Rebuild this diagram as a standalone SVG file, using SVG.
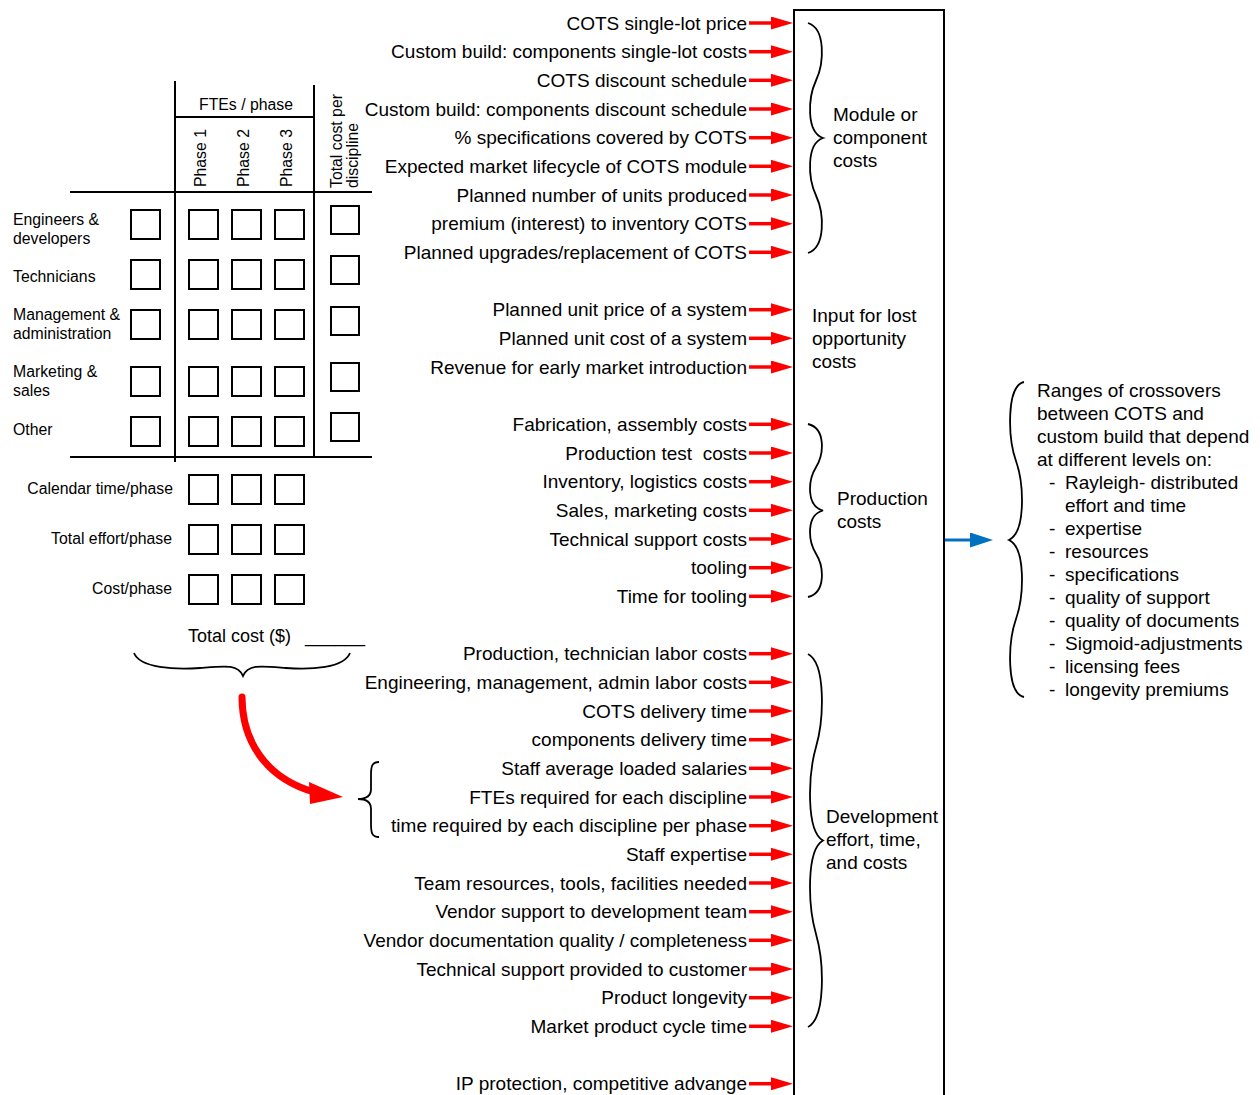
<svg xmlns="http://www.w3.org/2000/svg" width="1260" height="1095" viewBox="0 0 1260 1095">
<style>
text{font-family:"Liberation Sans",Arial,sans-serif;fill:#000}
.t19{font-size:19px}
.lab{font-size:19px;text-anchor:end}
.tb{font-size:15.8px}
.bx{fill:#fff;stroke:#000;stroke-width:2}
.ln{stroke:#000;stroke-width:2;fill:none}
.br{stroke:#000;stroke-width:1.8;fill:none}
.ra{stroke:#f00;stroke-width:3.5;fill:none;marker-end:url(#rh)}
</style>
<defs>
<marker id="rh" markerUnits="userSpaceOnUse" markerWidth="24" markerHeight="14" refX="4" refY="6.5" orient="auto">
<path d="M0,0 L22,6.5 L0,13 z" fill="#f00"/>
</marker>
<marker id="bh" markerUnits="userSpaceOnUse" markerWidth="24" markerHeight="16" refX="3" refY="7.5" orient="auto">
<path d="M0,0 L23,7.5 L0,15 z" fill="#0070C0"/>
</marker>
</defs>
<rect width="1260" height="1095" fill="#fff"/>

<g id="table">
<path class="ln" d="M175,81 V462 M314,85 V457 M175,117 H314 M70,192 H372 M70,457 H372"/>
<text class="tb" x="246" y="110" text-anchor="middle">FTEs / phase</text>
<text class="tb" transform="translate(206,187) rotate(-90)">Phase 1</text>
<text class="tb" transform="translate(249,187) rotate(-90)">Phase 2</text>
<text class="tb" transform="translate(292,187) rotate(-90)">Phase 3</text>
<text class="tb" transform="translate(342,188) rotate(-90)">Total cost per</text>
<text class="tb" transform="translate(358,188) rotate(-90)">discipline</text>
<text class="tb" x="13" y="225">Engineers &amp;</text>
<text class="tb" x="13" y="244">developers</text>
<text class="tb" x="13" y="282">Technicians</text>
<text class="tb" x="13" y="320">Management &amp;</text>
<text class="tb" x="13" y="339">administration</text>
<text class="tb" x="13" y="377">Marketing &amp;</text>
<text class="tb" x="13" y="396">sales</text>
<text class="tb" x="13" y="435">Other</text>
<g>
<rect class="bx" x="131" y="210" width="29" height="29"/><rect class="bx" x="189" y="210" width="29" height="29"/><rect class="bx" x="232" y="210" width="29" height="29"/><rect class="bx" x="275" y="210" width="29" height="29"/><rect class="bx" x="331" y="206" width="28" height="28"/>
<rect class="bx" x="131" y="260" width="29" height="29"/><rect class="bx" x="189" y="260" width="29" height="29"/><rect class="bx" x="232" y="260" width="29" height="29"/><rect class="bx" x="275" y="260" width="29" height="29"/><rect class="bx" x="331" y="256" width="28" height="28"/>
<rect class="bx" x="131" y="310" width="29" height="29"/><rect class="bx" x="189" y="310" width="29" height="29"/><rect class="bx" x="232" y="310" width="29" height="29"/><rect class="bx" x="275" y="310" width="29" height="29"/><rect class="bx" x="331" y="307" width="28" height="28"/>
<rect class="bx" x="131" y="367" width="29" height="29"/><rect class="bx" x="189" y="367" width="29" height="29"/><rect class="bx" x="232" y="367" width="29" height="29"/><rect class="bx" x="275" y="367" width="29" height="29"/><rect class="bx" x="331" y="363" width="28" height="28"/>
<rect class="bx" x="131" y="417" width="29" height="29"/><rect class="bx" x="189" y="417" width="29" height="29"/><rect class="bx" x="232" y="417" width="29" height="29"/><rect class="bx" x="275" y="417" width="29" height="29"/><rect class="bx" x="331" y="413" width="28" height="28"/>
<rect class="bx" x="189" y="475" width="29" height="29"/><rect class="bx" x="232" y="475" width="29" height="29"/><rect class="bx" x="275" y="475" width="29" height="29"/>
<rect class="bx" x="189" y="525" width="29" height="29"/><rect class="bx" x="232" y="525" width="29" height="29"/><rect class="bx" x="275" y="525" width="29" height="29"/>
<rect class="bx" x="189" y="575" width="29" height="29"/><rect class="bx" x="232" y="575" width="29" height="29"/><rect class="bx" x="275" y="575" width="29" height="29"/>
</g>
<text class="tb" x="173" y="494" text-anchor="end">Calendar time/phase</text>
<text class="tb" x="172" y="544" text-anchor="end">Total effort/phase</text>
<text class="tb" x="172" y="594" text-anchor="end">Cost/phase</text>
<text x="188" y="642" style="font-size:18px">Total cost ($) <tspan x="305">______</tspan></text>
<path class="br" d="M134,653 C140,668 175,670 200,668 C225,666 238,664 243,676 C248,664 261,666 286,668 C311,670 344,668 350,653"/>
</g>

<g id="main-box">
<path d="M794,1096 V10 H944 V1096" fill="none" stroke="#000" stroke-width="2"/>
<path class="br" d="M808,23 C826,28.75 824,63.25 816,80.5 C808,97.75 806,132.25 823,138 C806,143.75 808,178.25 816,195.5 C824,212.75 826,247.25 808,253"/>
<text class="t19" x="833" y="121">Module or</text>
<text class="t19" x="833" y="144">component</text>
<text class="t19" x="833" y="167">costs</text>
<text class="t19" x="812" y="322">Input for lost</text>
<text class="t19" x="812" y="345">opportunity</text>
<text class="t19" x="812" y="368">costs</text>
<path class="br" d="M808,424 C826,428.3 824,454.3 816,467.25 C808,480.2 806,506.2 823,510.5 C806,514.8 808,540.8 816,553.75 C824,566.7 826,592.7 808,597"/>
<text class="t19" x="837" y="505">Production</text>
<text class="t19" x="837" y="528">costs</text>
<path class="br" d="M808,654 C826,663.3 824,719 816,747 C808,775 806,831 823,840.5 C806,850 808,906 816,934 C824,962 826,1017.7 808,1027"/>
<text class="t19" x="826" y="823">Development</text>
<text class="t19" x="826" y="846">effort, time,</text>
<text class="t19" x="826" y="869">and costs</text>
</g>

<g id="crossovers">
<path class="br" d="M1024,382 C1006,386 1008,438 1016,461 C1024,484 1026,532 1009,540 C1026,548 1024,596 1016,619 C1008,642 1006,693 1024,697"/>
<text class="t19" x="1037" y="397">Ranges of crossovers</text>
<text class="t19" x="1037" y="420">between COTS and</text>
<text class="t19" x="1037" y="443">custom build that depend</text>
<text class="t19" x="1037" y="466">at different levels on:</text>
<text class="t19" x="1049" y="489">-</text><text class="t19" x="1065" y="489">Rayleigh- distributed</text>
<text class="t19" x="1065" y="512">effort and time</text>
<text class="t19" x="1049" y="535">-</text><text class="t19" x="1065" y="535">expertise</text>
<text class="t19" x="1049" y="558">-</text><text class="t19" x="1065" y="558">resources</text>
<text class="t19" x="1049" y="581">-</text><text class="t19" x="1065" y="581">specifications</text>
<text class="t19" x="1049" y="604">-</text><text class="t19" x="1065" y="604">quality of support</text>
<text class="t19" x="1049" y="627">-</text><text class="t19" x="1065" y="627">quality of documents</text>
<text class="t19" x="1049" y="650">-</text><text class="t19" x="1065" y="650">Sigmoid-adjustments</text>
<text class="t19" x="1049" y="673">-</text><text class="t19" x="1065" y="673">licensing fees</text>
<text class="t19" x="1049" y="696">-</text><text class="t19" x="1065" y="696">longevity premiums</text>
</g>

<g id="inputs">
<text class="lab" x="747" y="29.5">COTS single-lot price</text>
<text class="lab" x="747" y="58.2">Custom build: components single-lot costs</text>
<text class="lab" x="747" y="86.8">COTS discount schedule</text>
<text class="lab" x="747" y="115.5">Custom build: components discount schedule</text>
<text class="lab" x="747" y="144.2">% specifications covered by COTS</text>
<text class="lab" x="747" y="172.8">Expected market lifecycle of COTS module</text>
<text class="lab" x="747" y="201.5">Planned number of units produced</text>
<text class="lab" x="747" y="230.2">premium (interest) to inventory COTS</text>
<text class="lab" x="747" y="258.8">Planned upgrades/replacement of COTS</text>
<text class="lab" x="747" y="316.2">Planned unit price of a system</text>
<text class="lab" x="747" y="344.8">Planned unit cost of a system</text>
<text class="lab" x="747" y="373.5">Revenue for early market introduction</text>
<text class="lab" x="747" y="430.8">Fabrication, assembly costs</text>
<text class="lab" x="747" y="459.5" xml:space="preserve">Production test  costs</text>
<text class="lab" x="747" y="488.2">Inventory, logistics costs</text>
<text class="lab" x="747" y="516.8">Sales, marketing costs</text>
<text class="lab" x="747" y="545.5">Technical support costs</text>
<text class="lab" x="747" y="574.2">tooling</text>
<text class="lab" x="747" y="602.8">Time for tooling</text>
<text class="lab" x="747" y="660.2">Production, technician labor costs</text>
<text class="lab" x="747" y="688.8">Engineering, management, admin labor costs</text>
<text class="lab" x="747" y="717.5">COTS delivery time</text>
<text class="lab" x="747" y="746.2">components delivery time</text>
<text class="lab" x="747" y="774.8">Staff average loaded salaries</text>
<text class="lab" x="747" y="803.5">FTEs required for each discipline</text>
<text class="lab" x="747" y="832.2">time required by each discipline per phase</text>
<text class="lab" x="747" y="860.8">Staff expertise</text>
<text class="lab" x="747" y="889.5">Team resources, tools, facilities needed</text>
<text class="lab" x="747" y="918.2">Vendor support to development team</text>
<text class="lab" x="747" y="946.8">Vendor documentation quality / completeness</text>
<text class="lab" x="747" y="975.5">Technical support provided to customer</text>
<text class="lab" x="747" y="1004.2">Product longevity</text>
<text class="lab" x="747" y="1032.8">Market product cycle time</text>
<text class="lab" x="747" y="1090.2">IP protection, competitive advange</text>
<path class="br" d="M379,762 C372,762 371,766 371,775 L371,789 C371,795 367,799 358,799 C367,799 371,803 371,809 L371,824 C371,833 372,837 379,837"/>
</g>

<g id="connectors">
<path class="ra" d="M749,23 H775"/>
<path class="ra" d="M749,51.7 H775"/>
<path class="ra" d="M749,80.3 H775"/>
<path class="ra" d="M749,109 H775"/>
<path class="ra" d="M749,137.7 H775"/>
<path class="ra" d="M749,166.3 H775"/>
<path class="ra" d="M749,195 H775"/>
<path class="ra" d="M749,223.7 H775"/>
<path class="ra" d="M749,252.3 H775"/>
<path class="ra" d="M749,309.7 H775"/>
<path class="ra" d="M749,338.3 H775"/>
<path class="ra" d="M749,367 H775"/>
<path class="ra" d="M749,424.3 H775"/>
<path class="ra" d="M749,453 H775"/>
<path class="ra" d="M749,481.7 H775"/>
<path class="ra" d="M749,510.3 H775"/>
<path class="ra" d="M749,539 H775"/>
<path class="ra" d="M749,567.7 H775"/>
<path class="ra" d="M749,596.3 H775"/>
<path class="ra" d="M749,653.7 H775"/>
<path class="ra" d="M749,682.3 H775"/>
<path class="ra" d="M749,711 H775"/>
<path class="ra" d="M749,739.7 H775"/>
<path class="ra" d="M749,768.3 H775"/>
<path class="ra" d="M749,797 H775"/>
<path class="ra" d="M749,825.7 H775"/>
<path class="ra" d="M749,854.3 H775"/>
<path class="ra" d="M749,883 H775"/>
<path class="ra" d="M749,911.7 H775"/>
<path class="ra" d="M749,940.3 H775"/>
<path class="ra" d="M749,969 H775"/>
<path class="ra" d="M749,997.7 H775"/>
<path class="ra" d="M749,1026.3 H775"/>
<path class="ra" d="M749,1083.7 H775"/>
<path d="M945,540 H973" stroke="#0070C0" stroke-width="3" fill="none" marker-end="url(#bh)"/>
<path d="M242,697 C242,740 265,778 314,792" stroke="#f00" stroke-width="7" stroke-linecap="round" fill="none"/>
<path d="M343,797 L309,782 L310,804 z" fill="#f00"/>
</g>
</svg>
